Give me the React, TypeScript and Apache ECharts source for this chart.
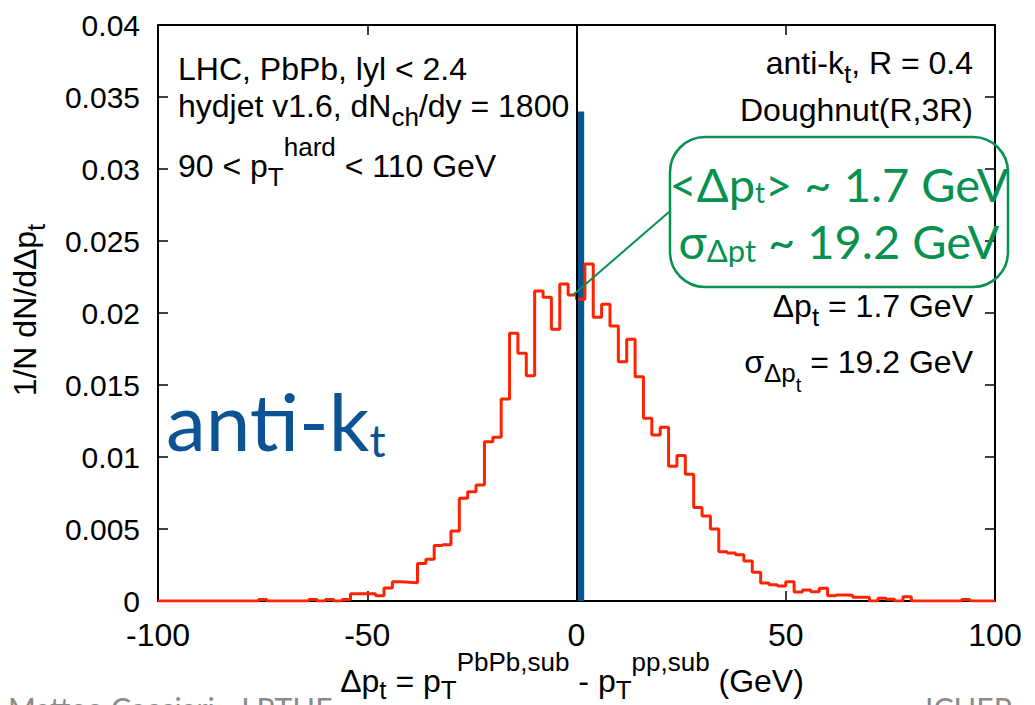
import React, { useEffect, useRef } from "react";
import * as echarts from "echarts";

// Histogram of Δp_t (2 GeV bins from -100 to 100 GeV), normalised 1/N dN/dΔp_t
const binStart = -100;
const binWidth = 2;
const dptFraction = [
  // -100 .. -80
  0, 0, 0, 0, 0, 0, 0, 0, 0, 0,
  // -80 .. -60
  0, 0, 0.0001, 0, 0, 0, 0, 0, 0.0001, 0,
  // -60 .. -40
  0.0001, 0, 0.0001, 0.0005, 0.0005, 0.0005, 0.00036, 0.0009, 0.00134, 0.0013,
  // -40 .. -20
  0.00127, 0.0026, 0.0029, 0.00385, 0.0039, 0.00486, 0.00713, 0.00759, 0.00806, 0.01106,
  // -20 .. 0
  0.01137, 0.01403, 0.01859, 0.0172, 0.01565, 0.02153, 0.02109, 0.01887, 0.02201, 0.02125,
  // 0 .. 20
  0.02095, 0.0234, 0.0197, 0.0206, 0.0191, 0.01662, 0.01817, 0.01558, 0.01269, 0.01153,
  // 20 .. 40
  0.01206, 0.00936, 0.0101, 0.0088, 0.0065, 0.0059, 0.005, 0.00342, 0.00333, 0.00322,
  // 40 .. 60
  0.00278, 0.002, 0.00125, 0.00113, 0.00105, 0.00134, 0.00063, 0.00076, 0.00065, 0.00088,
  // 60 .. 80
  0.00037, 0.00042, 0.0004, 0.00026, 0.00026, 0, 0.00019, 0.00012, 0, 0.0003,
  // 80 .. 100
  0, 0, 0, 0, 0, 0, 0.0001, 0, 0, 0,
];

// pp reference (single bin)
const ppBinCenter = [1];
const ppValue = [0.034];

// axis ranges and tick steps
const xRange = [-100, 100];
const xStep = 50;
const yRange = [0, 0.04];
const yStep = 0.005;

const HELV = "'Liberation Sans', Arial, Helvetica, sans-serif";
const GILL = "Lato, 'Open Sans', sans-serif";
const RED = "#ff2200";
const BLUE = "#0b5394";
const GREEN = "#079150";

const hv = (size: number, extra: Record<string, unknown> = {}) => ({
  fontFamily: HELV,
  fontSize: size,
  fill: "#000",
  color: "#000",
  lineHeight: 44,
  ...extra,
});

const blackRich = {
  m: hv(32),
  sb: hv(26, { padding: [22, 0, 0, 0] }),
  sp: hv(26, { padding: [0, 0, 38, 0] }),
  ssb: hv(20, { padding: [46, 0, 0, 0] }),
};

const titleRich = {
  m: hv(32),
  sb: hv(26, { padding: [18, 0, 0, 0] }),
  sp: hv(26, { padding: [0, 0, 38, 0] }),
};

const gs = (size: number, extra: Record<string, unknown> = {}) => ({
  fontFamily: GILL,
  fontSize: size,
  fill: GREEN,
  color: GREEN,
  lineHeight: 56,
  ...extra,
});

const greenRich = {
  m: gs(47),
  t: gs(28, { padding: [16, 0, 0, 0] }),
  d: gs(31, { padding: [17, 0, 0, 0] }),
};

function blackText(
  x: number,
  y: number,
  text: string,
  align: string,
  extra: Record<string, unknown> = {},
  rich: Record<string, unknown> = blackRich
) {
  return {
    type: "text",
    x,
    y,
    z: 10,
    ...extra,
    style: { text, rich, align, verticalAlign: "middle" },
  };
}

function buildOption() {
  const steps: number[][] = [];
  dptFraction.forEach((v, i) => {
    const lo = binStart + i * binWidth;
    steps.push([lo, v], [lo + binWidth, v]);
  });

  const axisLine = { show: true, onZero: false, lineStyle: { color: "#000", width: 2 } };
  const axisTick = { show: true, inside: true, length: 10, lineStyle: { color: "#000", width: 1.5 } };

  return {
    animation: false,
    backgroundColor: "#fff",
    grid: { left: 158, right: 40, top: 25, bottom: 104, show: false },
    xAxis: [
      {
        type: "value", min: xRange[0], max: xRange[1], interval: xStep, position: "bottom",
        axisLine, axisTick,
        axisLabel: { color: "#000", fontSize: 32, fontFamily: HELV, margin: 18 },
        splitLine: { show: false },
      },
      {
        type: "value", min: xRange[0], max: xRange[1], interval: xStep, position: "top",
        axisLine, axisTick, axisLabel: { show: false }, splitLine: { show: false },
      },
    ],
    yAxis: [
      {
        type: "value", min: yRange[0], max: yRange[1], interval: yStep, position: "left",
        axisLine, axisTick,
        axisLabel: { color: "#000", fontSize: 30, fontFamily: HELV, margin: 18 },
        splitLine: { show: false },
      },
      {
        type: "value", min: yRange[0], max: yRange[1], interval: yStep, position: "right",
        axisLine, axisTick, axisLabel: { show: false }, splitLine: { show: false },
      },
    ],
    series: [
      {
        type: "bar",
        z: 2,
        barWidth: 7,
        data: ppBinCenter.map((c, i) => [c, ppValue[i]]),
        itemStyle: { color: BLUE },
        markLine: {
          silent: true,
          symbol: "none",
          label: { show: false },
          lineStyle: { color: "#000", width: 2, type: "solid" },
          data: [{ xAxis: 0 }],
        },
      },
      {
        type: "line",
        z: 3,
        data: steps,
        showSymbol: false,
        symbol: "none",
        lineStyle: { color: RED, width: 3 },
      },
    ],
    graphic: [
      blackText(178, 69, "{m|LHC, PbPb, lyl < 2.4}", "left"),
      blackText(178, 106, "{m|hydjet v1.6, dN}{sb|ch}{m|/dy = 1800}", "left"),
      blackText(178, 166, "{m|90 < p}{sb|T}{sp|hard}{m| < 110 GeV}", "left"),
      blackText(973, 63, "{m|anti-k}{sb|t}{m|, R = 0.4}", "right"),
      blackText(973, 110, "{m|Doughnut(R,3R)}", "right"),
      blackText(973, 306, "{m|Δp}{sb|t}{m| = 1.7 GeV}", "right"),
      blackText(973, 362, "{m|σ}{sb|Δp}{ssb|t}{m| = 19.2 GeV}", "right"),
      blackText(
        572,
        681,
        "{m|Δp}{sb|t}{m| = p}{sb|T}{sp|PbPb,sub}{m| - p}{sb|T}{sp|pp,sub}{m| (GeV)}",
        "center",
        {},
        titleRich
      ),
      blackText(25, 310, "{m|1/N dN/dΔp}{sb|t}", "center", { rotation: Math.PI / 2 }),
      {
        type: "text",
        x: 166,
        y: 420,
        z: 10,
        style: {
          text: "{m|anti-k}{t|t}",
          rich: {
            m: { fontFamily: GILL, fontSize: 80, fill: BLUE, color: BLUE, lineHeight: 100 },
            t: { fontFamily: GILL, fontSize: 45, fill: BLUE, color: BLUE, lineHeight: 100, padding: [40, 0, 0, 0] },
          },
          align: "left",
          verticalAlign: "middle",
        },
      },
      {
        type: "line",
        z: 11,
        shape: { x1: 573, y1: 295, x2: 669, y2: 212 },
        style: { stroke: GREEN, lineWidth: 2 },
      },
      {
        type: "rect",
        z: 11,
        shape: { x: 670, y: 137, width: 338, height: 150, r: 35 },
        style: { fill: "rgba(255,255,255,0)", stroke: GREEN, lineWidth: 2.5 },
      },
      {
        type: "text",
        x: 839,
        y: 184,
        z: 12,
        style: { text: "{m|<Δp}{t|t}{m|> ~ 1.7 GeV}", rich: greenRich, align: "center", verticalAlign: "middle" },
      },
      {
        type: "text",
        x: 839,
        y: 241,
        z: 12,
        style: { text: "{m|σ}{d|Δpt}{m| ~ 19.2 GeV}", rich: greenRich, align: "center", verticalAlign: "middle" },
      },
      {
        type: "text",
        x: 8,
        y: 708,
        z: 10,
        style: { text: "Matteo Cacciari - LPTHE", fontFamily: GILL, fontSize: 30, fill: "#8a8a8a", align: "left", verticalAlign: "middle" },
      },
      {
        type: "text",
        x: 925,
        y: 708,
        z: 10,
        style: { text: "ICHEP", fontFamily: GILL, fontSize: 30, fill: "#8a8a8a", align: "left", verticalAlign: "middle" },
      },
    ],
  };
}

export default function App() {
  const ref = useRef<HTMLDivElement>(null);
  useEffect(() => {
    if (!ref.current) return;
    const chart = echarts.init(ref.current, null, { renderer: "svg" });
    chart.setOption(buildOption() as any);
    return () => chart.dispose();
  }, []);
  return (
    <div
      ref={ref}
      style={{ position: "fixed", left: 0, top: 0, width: 1035, height: 705, background: "#fff" }}
    />
  );
}
